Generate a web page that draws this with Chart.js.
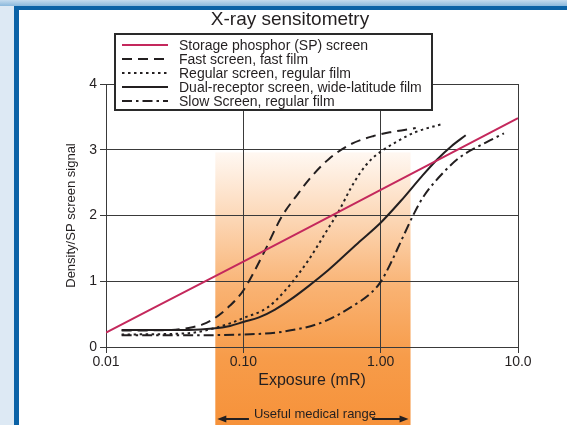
<!DOCTYPE html>
<html><head><meta charset="utf-8">
<script src="https://cdn.jsdelivr.net/npm/chart.js@4/dist/chart.umd.min.js"></script>
<style>html,body{margin:0;padding:0;background:#fff;overflow:hidden}canvas{display:block}</style>
</head><body>
<canvas id="c" width="567" height="425"></canvas>
<script>
// ---- data ----
const chartTitle = "X-ray sensitometry";
const xTitle = "Exposure (mR)";
const yTitle = "Density/SP screen signal";
const rangeLabel = "Useful medical range";
const seriesNames = [
  "Storage phosphor (SP) screen",
  "Fast screen, fast film",
  "Regular screen, regular film",
  "Dual-receptor screen, wide-latitude film",
  "Slow Screen, regular film"
];
const xTickValues = [0.01, 0.1, 1, 10];
const xTickLabels = ["0.01", "0.10", "1.00", "10.0"];
const yTickValues = [0, 1, 2, 3, 4];

const spX   = [0.01, 0.1, 1, 10];
const spY   = [0.22, 1.30, 2.39, 3.48];
const fastX = [0.013, 0.03, 0.04, 0.05, 0.06, 0.08, 0.10, 0.14, 0.19, 0.25, 0.31, 0.42, 0.60, 0.89, 1.2, 1.8];
const fastY = [0.25, 0.26, 0.29, 0.34, 0.42, 0.63, 0.86, 1.42, 1.98, 2.33, 2.58, 2.86, 3.08, 3.21, 3.27, 3.33];
const regX  = [0.013, 0.04, 0.06, 0.08, 0.10, 0.15, 0.20, 0.25, 0.30, 0.35, 0.40, 0.50, 0.60, 0.71, 0.85, 1.0, 1.3, 1.8, 2.8];
const regY  = [0.19, 0.21, 0.28, 0.36, 0.44, 0.60, 0.85, 1.10, 1.33, 1.55, 1.75, 2.08, 2.40, 2.65, 2.85, 2.97, 3.12, 3.27, 3.39];
const dualX = [0.013, 0.04, 0.06, 0.08, 0.10, 0.13, 0.17, 0.22, 0.30, 0.40, 0.50, 0.70, 1.0, 1.4, 2.0, 2.6, 3.26, 4.16];
const dualY = [0.26, 0.26, 0.28, 0.32, 0.38, 0.45, 0.57, 0.72, 0.93, 1.14, 1.32, 1.60, 1.89, 2.22, 2.60, 2.86, 3.05, 3.22];
const slowX = [0.013, 0.05, 0.10, 0.19, 0.38, 0.68, 0.85, 1.0, 1.2, 1.4, 1.76, 2.07, 2.88, 3.8, 5.96, 7.9];
const slowY = [0.18, 0.18, 0.19, 0.23, 0.38, 0.67, 0.82, 0.99, 1.30, 1.60, 2.04, 2.30, 2.66, 2.89, 3.12, 3.25];

const pts = (xs, ys) => xs.map((x, i) => ({x: x, y: ys[i]}));

// ---- styles / layout ----
const FONT = "'Liberation Sans', Arial, Helvetica, sans-serif";
const INK = '#231f20';
const RANGE = {from: 0.0625, to: 1.65, top: 2.96};

const decorPlugin = {
  id: 'decor',
  beforeDraw(chart) {
    const {ctx, width, height, scales: {x, y}} = chart;
    ctx.save();
    ctx.fillStyle = '#ffffff';
    ctx.fillRect(0, 0, width, height);
    ctx.fillStyle = '#dde9f4';
    ctx.fillRect(0, 0, 14, height);
    const tg = ctx.createLinearGradient(0, 0, 0, 6);
    tg.addColorStop(0, '#c4dbee'); tg.addColorStop(1, '#8ab8dc');
    ctx.fillStyle = tg;
    ctx.fillRect(0, 0, width, 6);
    ctx.fillStyle = '#0b62a6';
    ctx.fillRect(14, 6, width - 14, 4);
    ctx.fillRect(14, 6, 5, height - 6);
    // orange useful range band
    const x0 = x.getPixelForValue(RANGE.from), x1 = x.getPixelForValue(RANGE.to);
    const y0 = y.getPixelForValue(RANGE.top);
    const g = ctx.createLinearGradient(0, y0, 0, height);
    g.addColorStop(0, '#fff8f2');
    g.addColorStop(0.25, '#fcd6b4');
    g.addColorStop(0.5, '#f9b272');
    g.addColorStop(0.75, '#f79c4a');
    g.addColorStop(1, '#f6923a');
    ctx.fillStyle = g;
    ctx.fillRect(x0, y0, x1 - x0, height - y0);
    ctx.restore();
  },
  afterDraw(chart) {
    const {ctx, scales: {x, y}} = chart;
    ctx.save();
    ctx.fillStyle = INK;
    ctx.font = '19px ' + FONT;
    ctx.textAlign = 'center';
    ctx.textBaseline = 'middle';
    ctx.fillText(chartTitle, 290, 20);
    // legend box
    const bx = 115, by = 34, bw = 317, bh = 76;
    ctx.fillStyle = '#ffffff';
    ctx.fillRect(bx, by, bw, bh);
    ctx.strokeStyle = '#2a2a2a';
    ctx.lineWidth = 2;
    ctx.strokeRect(bx, by, bw, bh);
    ctx.font = '14px ' + FONT;
    ctx.textAlign = 'left';
    chart.data.datasets.forEach((ds, i) => {
      const ry = 45 + i * 14;
      ctx.strokeStyle = ds.borderColor;
      ctx.lineWidth = 2;
      ctx.setLineDash(ds.borderDash || []);
      ctx.beginPath(); ctx.moveTo(122, ry); ctx.lineTo(168, ry); ctx.stroke();
      ctx.setLineDash([]);
      ctx.fillStyle = INK;
      ctx.fillText(ds.label, 179, ry + 1);
    });
    // useful range annotation
    const x0 = x.getPixelForValue(RANGE.from), x1 = x.getPixelForValue(RANGE.to);
    const ay = 419;
    ctx.font = '13px ' + FONT;
    ctx.textAlign = 'center';
    ctx.fillStyle = INK;
    const tx = 315;
    ctx.fillText(rangeLabel, tx, 414);
    const tw = ctx.measureText(rangeLabel).width;
    ctx.strokeStyle = INK; ctx.lineWidth = 2;
    ctx.beginPath(); ctx.moveTo(x0 + 6, ay); ctx.lineTo(tx - tw / 2 - 5, ay); ctx.stroke();
    ctx.beginPath(); ctx.moveTo(tx + tw / 2 - 4, ay); ctx.lineTo(x1 - 6, ay); ctx.stroke();
    ctx.beginPath(); ctx.moveTo(x0 + 2, ay); ctx.lineTo(x0 + 11, ay - 3.5); ctx.lineTo(x0 + 11, ay + 3.5); ctx.closePath(); ctx.fill();
    ctx.beginPath(); ctx.moveTo(x1 - 2, ay); ctx.lineTo(x1 - 11, ay - 3.5); ctx.lineTo(x1 - 11, ay + 3.5); ctx.closePath(); ctx.fill();
    ctx.restore();
  }
};

const lineDs = (label, data, color, dash) => ({
  label: label, data: data, borderColor: color, borderWidth: 2,
  borderDash: dash, showLine: true, pointRadius: 0, fill: false,
  cubicInterpolationMode: 'monotone'
});

new Chart(document.getElementById('c'), {
  type: 'scatter',
  data: {
    datasets: [
      lineDs(seriesNames[0], pts(spX, spY), '#c4285c', []),
      lineDs(seriesNames[1], pts(fastX, fastY), INK, [10, 6]),
      lineDs(seriesNames[2], pts(regX, regY), INK, [2.5, 3.5]),
      lineDs(seriesNames[3], pts(dualX, dualY), INK, []),
      lineDs(seriesNames[4], pts(slowX, slowY), INK, [10, 4, 2.5, 4])
    ]
  },
  options: {
    responsive: false, animation: false, devicePixelRatio: 1,
    layout: {padding: {left: 0, top: 84, right: 49, bottom: 0}},
    plugins: {legend: {display: false}, title: {display: false}, tooltip: {enabled: false}},
    scales: {
      x: {
        type: 'logarithmic', min: 0.01, max: 10,
        afterFit(s) { s.height = 78; },
        afterBuildTicks(s) { s.ticks = xTickValues.map(v => ({value: v, major: false})); },
        ticks: {
          callback: (v, i) => xTickLabels[i], autoSkip: false, maxRotation: 0,
          font: {size: 14, family: FONT}, color: INK, padding: 1
        },
        grid: {color: '#3a3a3a', lineWidth: 1, tickLength: 6, drawTicks: true},
        border: {color: '#3a3a3a', width: 1},
        title: {display: true, text: xTitle, color: INK, font: {size: 16, family: FONT}, padding: {top: 0, bottom: 35}}
      },
      y: {
        min: 0, max: 4,
        afterFit(s) { s.width = 106; },
        afterBuildTicks(s) { s.ticks = yTickValues.map(v => ({value: v})); },
        ticks: {font: {size: 14, family: FONT}, color: INK, padding: 3},
        grid: {color: '#3a3a3a', lineWidth: 1, tickLength: 6, drawTicks: true},
        border: {color: '#3a3a3a', width: 1},
        title: {display: true, text: yTitle, color: INK, font: {size: 13, family: FONT}, padding: {top: 64, bottom: 0}}
      }
    }
  },
  plugins: [decorPlugin]
});
</script>
</body></html>
